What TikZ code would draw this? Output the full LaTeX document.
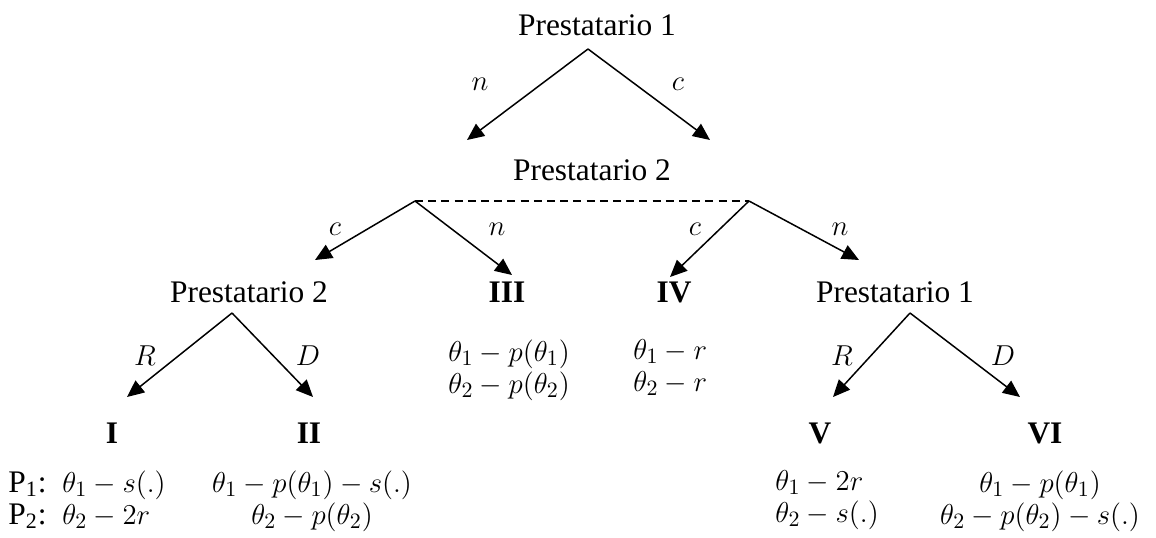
\documentclass[tikz,border=0pt]{standalone}
\usepackage{fontspec}
\setmainfont{Liberation Serif}
\usetikzlibrary{arrows.meta}
\begin{document}
\begin{tikzpicture}[x=0.5pt,y=-0.5pt,
  lbl/.style={font=\fontsize{15.7}{15.5}\selectfont, inner sep=0pt, anchor=base},
  pay/.style={font=\fontsize{15.7}{16}\selectfont, inner sep=0pt, align=center, anchor=north},
  payw/.style={pay, align=left, anchor=north west},
  arr/.style={line width=0.75pt, -{Triangle[length=8.5pt,width=7.5pt]}},
  info/.style={line width=0.75pt, dash pattern=on 4pt off 2.6pt}]
\useasboundingbox (0,0) rectangle (1156,537);
% level 0
\node[lbl] (p1) at (597,35) {Prestatario 1};
\coordinate (a0) at (588,49);
\coordinate (t0l) at (467,140);
\coordinate (t0r) at (710,140);
\draw[arr] (a0) -- (t0l);
\draw[arr] (a0) -- (t0r);
\node[lbl] (ln0) at (480,90) {$n$};
\node[lbl] (lc0) at (678,90) {$c$};
% level 1
\node[lbl] (p2) at (592,180) {Prestatario 2};
\coordinate (aL) at (415,201);
\coordinate (aR) at (749,201);
\draw[info] (aL) -- (aR);
\coordinate (tLc) at (315,260);
\coordinate (tLn) at (512,275);
\coordinate (tRc) at (670,277);
\coordinate (tRn) at (859,260);
\draw[arr] (aL) -- (tLc);
\draw[arr] (aL) -- (tLn);
\draw[arr] (aR) -- (tRc);
\draw[arr] (aR) -- (tRn);
\node[lbl] (lcL) at (335,235) {$c$};
\node[lbl] (lnL) at (497,235) {$n$};
\node[lbl] (lcR) at (695,235) {$c$};
\node[lbl] (lnR) at (840,235) {$n$};
% level 2
\node[lbl] (p2b) at (249,302) {Prestatario 2};
\node[lbl] (III) at (507,302) {\textbf{III}};
\node[lbl] (IV) at (674,302) {\textbf{IV}};
\node[lbl] (p1b) at (895,302) {Prestatario 1};
\node[payw] (IIIp) at (448,339) {$\theta_1-p(\theta_1)$\\$\theta_2-p(\theta_2)$};
\node[payw] (IVp) at (633,339) {$\theta_1-r$\\$\theta_2-r$};
% level 3 left
\coordinate (bL) at (232,313);
\coordinate (tI) at (127,397);
\coordinate (tII) at (313,397);
\draw[arr] (bL) -- (tI);
\draw[arr] (bL) -- (tII);
\node[lbl] (lRL) at (145,365) {$R$};
\node[lbl] (lDL) at (308,365) {$D$};
% level 3 right
\coordinate (bR) at (910,313);
\coordinate (tV) at (833,397);
\coordinate (tVI) at (1020,397);
\draw[arr] (bR) -- (tV);
\draw[arr] (bR) -- (tVI);
\node[lbl] (lRR) at (842,365) {$R$};
\node[lbl] (lDR) at (1003,365) {$D$};
% outcomes
\node[lbl] (I) at (112,443) {\textbf{I}};
\node[lbl] (II) at (309,443) {\textbf{II}};
\node[lbl] (V) at (820,443) {\textbf{V}};
\node[lbl] (VI) at (1045,443) {\textbf{VI}};
% payoffs
\node[payw] (Ip) at (8,470) {P\textsubscript{1}:\ \ $\theta_1-s(.)$\\P\textsubscript{2}:\ \ $\theta_2-2r$};
\node[pay] (IIp) at (312,470) {$\theta_1-p(\theta_1)-s(.)$\\$\theta_2-p(\theta_2)$};
\node[payw] (Vp) at (775,470) {$\theta_1-2r$\\$\theta_2-s(.)$};
\node[pay] (VIp) at (1040,470) {$\theta_1-p(\theta_1)$\\$\theta_2-p(\theta_2)-s(.)$};
\end{tikzpicture}
\end{document}
